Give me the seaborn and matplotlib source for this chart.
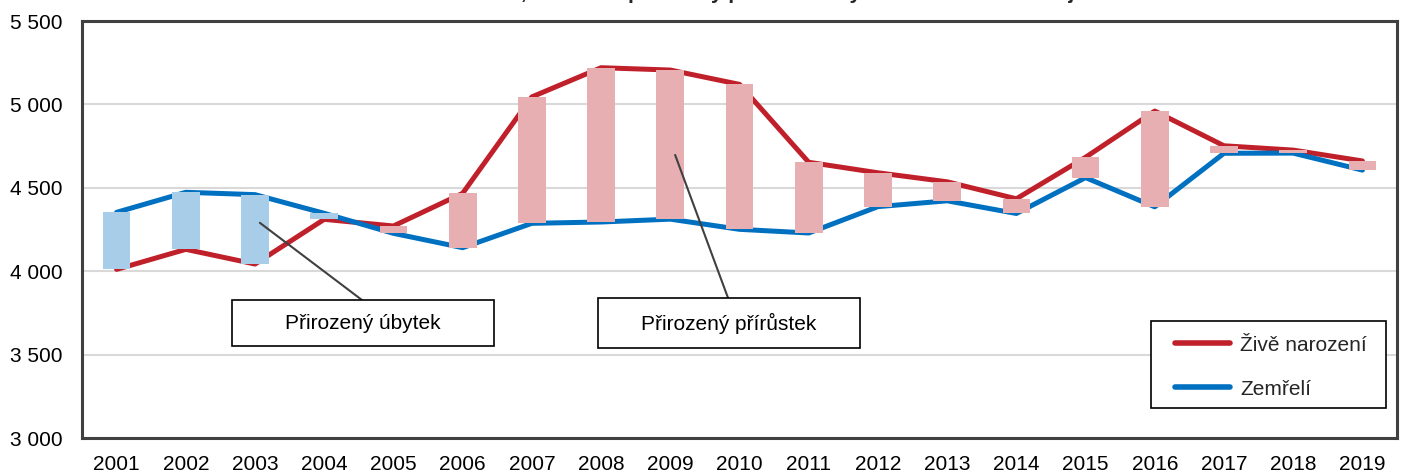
import matplotlib
matplotlib.use("Agg")
import matplotlib.pyplot as plt
from matplotlib.patches import Rectangle
import seaborn as sns
import pandas as pd

# DATA
years = [str(y) for y in range(2001, 2020)]
births = [4011, 4131, 4043, 4311, 4271, 4467, 5045, 5220, 5206, 5120,
          4653, 4590, 4536, 4434, 4683, 4960, 4752, 4726, 4661]
deaths = [4353, 4473, 4459, 4347, 4227, 4141, 4287, 4295, 4312, 4251,
          4229, 4387, 4422, 4346, 4561, 4386, 4707, 4708, 4606]
y_ticks = [3000, 3500, 4000, 4500, 5000, 5500]
series_names = ["Živě narození", "Zemřelí"]
title = "Živě narození, zemřelí a přirozený přírůstek/úbytek v Libereckém kraji"
label_decrease = "Přirozený úbytek"
label_increase = "Přirozený přírůstek"

RED = "#C0202A"
BLUE = "#0070C0"
PINK = "#E8AFB3"
LIGHTBLUE = "#A7CDE8"
FRAME = "#404040"

sns.set_theme(style="white")
plt.rcParams["font.family"] = ["Liberation Sans", "DejaVu Sans"]

df = pd.DataFrame({"idx": range(len(years)), "year": years,
                   series_names[0]: births, series_names[1]: deaths})
long = df.melt(id_vars=["idx", "year"], value_vars=series_names,
               var_name="serie", value_name="value")

fig = plt.figure(figsize=(14.05, 4.73), dpi=100)
ax = fig.add_axes([82 / 1405, 35 / 473, 1315 / 1405, 417 / 473])

# lines
sns.lineplot(data=long, x="idx", y="value", hue="serie", hue_order=series_names,
             palette=[RED, BLUE], linewidth=3.6, ax=ax, zorder=2)

# floating bars between births and deaths
low = [min(b, d) for b, d in zip(births, deaths)]
height = [abs(b - d) for b, d in zip(births, deaths)]
colors = [PINK if b > d else LIGHTBLUE for b, d in zip(births, deaths)]
ax.bar(df["idx"], height, bottom=low, width=0.4, color=colors, linewidth=0, zorder=3)

ax.set_xlim(-0.5, len(years) - 0.5)
ax.set_ylim(y_ticks[0], y_ticks[-1])
ax.set_xticks(df["idx"])
ax.set_xticklabels(years)
ax.set_yticks(y_ticks)
ax.set_yticklabels([f"{v:,}".replace(",", " ") for v in y_ticks])
ax.tick_params(axis="y", length=0, pad=14, labelsize=15, colors="black")
ax.tick_params(axis="x", length=0, pad=12, labelsize=15, colors="black")
ax.set_xlabel("")
ax.set_ylabel("")
ax.yaxis.grid(True, color="#D9D9D9", linewidth=1.5, zorder=0)
ax.set_axisbelow(True)
for s in ax.spines.values():
    s.set_visible(True)
    s.set_color(FRAME)
    s.set_linewidth(2.2)

# legend (frame drawn separately so the box matches the reference)
ax.add_patch(Rectangle((0.8129, 0.0719), 0.9916 - 0.8129, 0.2806 - 0.0719,
                       transform=ax.transAxes, facecolor="white", edgecolor="black",
                       linewidth=1.2, zorder=4.5))
handles, labels = ax.get_legend_handles_labels()
leg = ax.legend(handles, labels, loc="center left", bbox_to_anchor=(0.8312, 0.170),
                frameon=False, fontsize=15, handlelength=2.64,
                handletextpad=0.48, labelspacing=1.19, borderpad=0, borderaxespad=0)
leg.set_zorder(6)
for line in leg.get_lines():
    line.set_linewidth(4)
    line.set_solid_capstyle("round")

# annotation boxes
for (x0, x1, y0, y1), txt in [((0.1141, 0.3133, 0.2206, 0.3309), label_decrease),
                              ((0.3924, 0.5916, 0.2158, 0.3357), label_increase)]:
    ax.add_patch(Rectangle((x0, y0), x1 - x0, y1 - y0, transform=ax.transAxes,
                           facecolor="white", edgecolor="black", linewidth=1.2, zorder=5))
    ax.text((x0 + x1) / 2, (y0 + y1) / 2, txt, transform=ax.transAxes,
            ha="center", va="center", fontsize=15, color="black", zorder=6)

ax.annotate("", xy=(2.07, 4290), xytext=(0.2129, 0.3309), textcoords="axes fraction",
            arrowprops=dict(arrowstyle="-", color=FRAME, lw=1.5, shrinkA=0, shrinkB=0),
            zorder=4)
ax.annotate("", xy=(8.07, 4697), xytext=(0.4913, 0.3357), textcoords="axes fraction",
            arrowprops=dict(arrowstyle="-", color=FRAME, lw=1.5, shrinkA=0, shrinkB=0),
            zorder=4)

# title sits mostly above the canvas, as in the reference
fig.text(0.522, 1 + 1.5 / 473, title, ha="center", va="baseline",
         fontsize=15, fontweight="bold")

fig.savefig("out.png", dpi=100)
plt.close(fig)
